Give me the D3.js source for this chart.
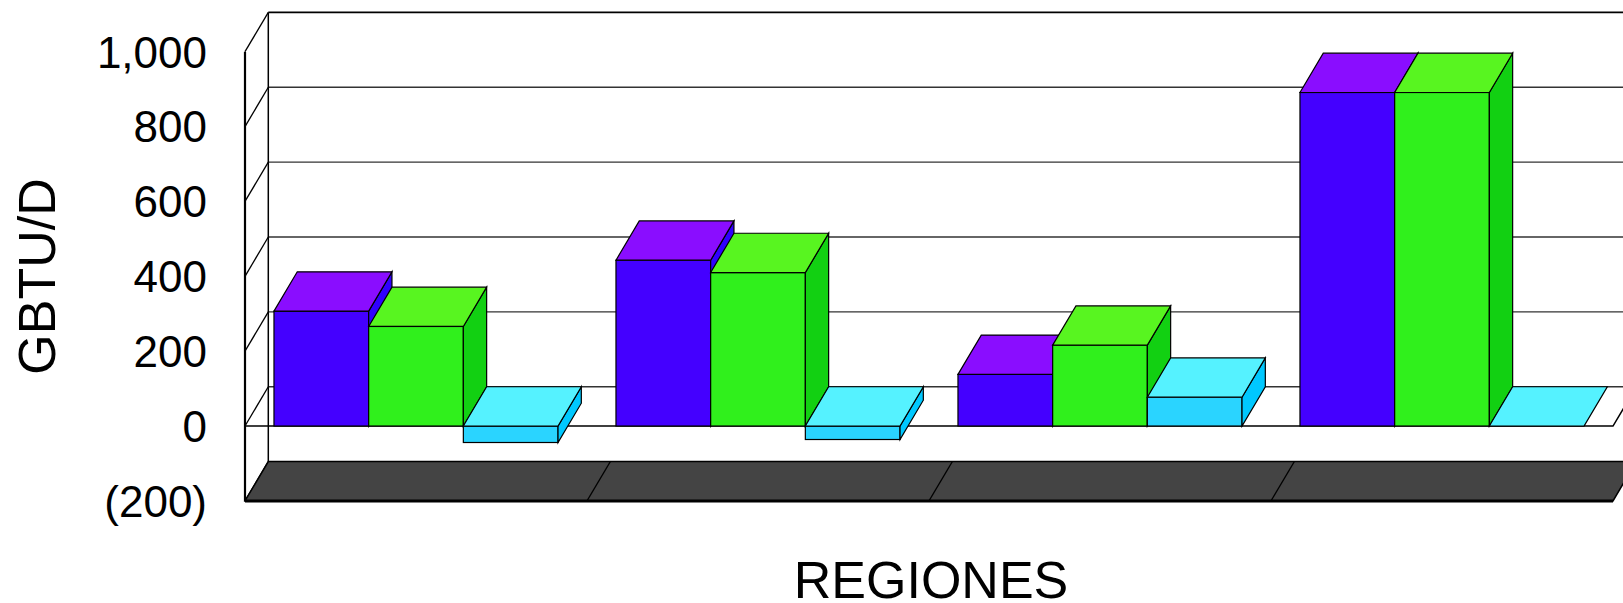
<!DOCTYPE html>
<html>
<head>
<meta charset="utf-8">
<script src="https://cdn.jsdelivr.net/npm/d3@7"></script>
<style>
  body { margin: 0; background: #fff; }
  svg { display: block; font-family: Arial, "Liberation Sans", sans-serif; }
</style>
</head>
<body>
<div id="chart"></div>
<script>
// data
const regiones = ["Región 1", "Región 2", "Región 3", "Región 4"];
const series = ["serie1", "serie2", "serie3"];
const serie1 = [307, 443, 138, 891];
const serie2 = [266, 410, 216, 891];
const serie3 = [-44, -36, 77, 0];
const yTicks = [-200, 0, 200, 400, 600, 800, 1000];
const yTickLabels = ["(200)", "0", "200", "400", "600", "800", "1,000"];

const width = 1623, height = 603;
const depthX = 23.3, depthY = -39.3;   // 3d depth offset of the back wall

// colours per series: front, top, side
const colors = [
  { front: "#4400ff", top: "#8a0dff", side: "#3000ff" },
  { front: "#30f01c", top: "#58f520", side: "#12d012" },
  { front: "#2ad4ff", top: "#55f2ff", side: "#00c8ff" }
];

const svg = d3.select("#chart").append("svg")
  .attr("width", width)
  .attr("height", height);

// scales
const y = d3.scaleLinear().domain([-200, 1000]).range([500.9, 51.7]);
const x0 = d3.scaleBand().domain(regiones).range([245, 1613]).padding(0);
const x1 = d3.scaleBand().domain(series).range([0, x0.bandwidth()])
  .paddingInner(0).paddingOuter(0.306);

const xLeft = x0.range()[0], xRight = x0.range()[1];

//------------------ WALLS ------------------//
// back wall gridlines
svg.append("g").selectAll("line")
  .data(yTicks)
  .join("line")
  .attr("x1", xLeft + depthX)
  .attr("x2", xRight + depthX + 20)
  .attr("y1", d => y(d) + depthY)
  .attr("y2", d => y(d) + depthY)
  .attr("stroke", d => d === 1000 ? "#000" : "#333")
  .attr("stroke-width", d => d === 1000 ? 1.6 : 1.3);

// left wall diagonals
svg.append("g").selectAll("line")
  .data(yTicks)
  .join("line")
  .attr("x1", xLeft).attr("y1", d => y(d))
  .attr("x2", xLeft + depthX).attr("y2", d => y(d) + depthY)
  .attr("stroke", "#000")
  .attr("stroke-width", 1.3);

// back vertical edge
svg.append("line")
  .attr("x1", xLeft + depthX).attr("x2", xLeft + depthX)
  .attr("y1", y(1000) + depthY).attr("y2", y(-200) + depthY)
  .attr("stroke", "#000").attr("stroke-width", 1.5);

// dark floor
svg.append("path")
  .attr("d", `M${xLeft},${y(-200)} L${xLeft + depthX},${y(-200) + depthY} L${xRight + depthX},${y(-200) + depthY} L${xRight},${y(-200)} Z`)
  .attr("fill", "#444")
  .attr("stroke", "#000")
  .attr("stroke-width", 1.5);

// floor dividers
svg.append("g").selectAll("line")
  .data(regiones.slice(1))
  .join("line")
  .attr("x1", d => x0(d)).attr("y1", y(-200))
  .attr("x2", d => x0(d) + depthX).attr("y2", y(-200) + depthY)
  .attr("stroke", "#000").attr("stroke-width", 1.2);

// floor front edge
svg.append("line")
  .attr("x1", xLeft).attr("x2", xRight)
  .attr("y1", y(-200)).attr("y2", y(-200))
  .attr("stroke", "#000").attr("stroke-width", 3);

// zero plane outline
svg.append("path")
  .attr("d", `M${xLeft},${y(0)} L${xRight},${y(0)} L${xRight + depthX},${y(0) + depthY}`)
  .attr("fill", "none")
  .attr("stroke", "#000")
  .attr("stroke-width", 1.5);

// front vertical axis
svg.append("line")
  .attr("x1", xLeft).attr("x2", xLeft)
  .attr("y1", y(1000)).attr("y2", y(-200))
  .attr("stroke", "#000").attr("stroke-width", 2.2);

//------------------ BARS ------------------//
const rows = [];
regiones.forEach((r, i) => {
  [serie1, serie2, serie3].forEach((s, j) => {
    rows.push({ region: r, serie: series[j], idx: j, value: s[i] });
  });
});

const bars = svg.append("g").selectAll("g")
  .data(rows)
  .join("g");

function geom(d) {
  const xa = x0(d.region) + x1(d.serie);
  const xb = xa + x1.bandwidth();
  const yTop = y(Math.max(0, d.value));
  const yBot = y(Math.min(0, d.value));
  return { xa, xb, yTop, yBot };
}

// front face
bars.filter(d => d.value !== 0).append("rect")
  .attr("x", d => geom(d).xa)
  .attr("y", d => geom(d).yTop)
  .attr("width", x1.bandwidth())
  .attr("height", d => geom(d).yBot - geom(d).yTop)
  .attr("fill", d => colors[d.idx].front)
  .attr("stroke", "#000")
  .attr("stroke-width", 1.2);

// side face
bars.filter(d => d.value !== 0).append("path")
  .attr("d", d => {
    const g = geom(d);
    return `M${g.xb},${g.yTop} L${g.xb + depthX},${g.yTop + depthY} L${g.xb + depthX},${g.yBot + depthY} L${g.xb},${g.yBot} Z`;
  })
  .attr("fill", d => colors[d.idx].side)
  .attr("stroke", "#000")
  .attr("stroke-width", 1.2);

// top face
bars.append("path")
  .attr("d", d => {
    const g = geom(d);
    return `M${g.xa},${g.yTop} L${g.xa + depthX},${g.yTop + depthY} L${g.xb + depthX},${g.yTop + depthY} L${g.xb},${g.yTop} Z`;
  })
  .attr("fill", d => colors[d.idx].top)
  .attr("stroke", "#000")
  .attr("stroke-width", 1.2);

//------------------ LABELS ------------------//
svg.append("g").selectAll("text")
  .data(yTicks)
  .join("text")
  .attr("x", 207)
  .attr("y", d => y(d))
  .attr("dy", "0.36em")
  .attr("text-anchor", "end")
  .style("font-size", "44px")
  .attr("fill", "#000")
  .text((d, i) => yTickLabels[i]);

svg.append("text")
  .attr("transform", "translate(55,276.5) rotate(-90)")
  .attr("text-anchor", "middle")
  .style("font-size", "52px")
  .attr("fill", "#000")
  .text("GBTU/D");

svg.append("text")
  .attr("x", 931)
  .attr("y", 598)
  .attr("text-anchor", "middle")
  .style("font-size", "52px")
  .attr("fill", "#000")
  .text("REGIONES");
</script>
</body>
</html>
